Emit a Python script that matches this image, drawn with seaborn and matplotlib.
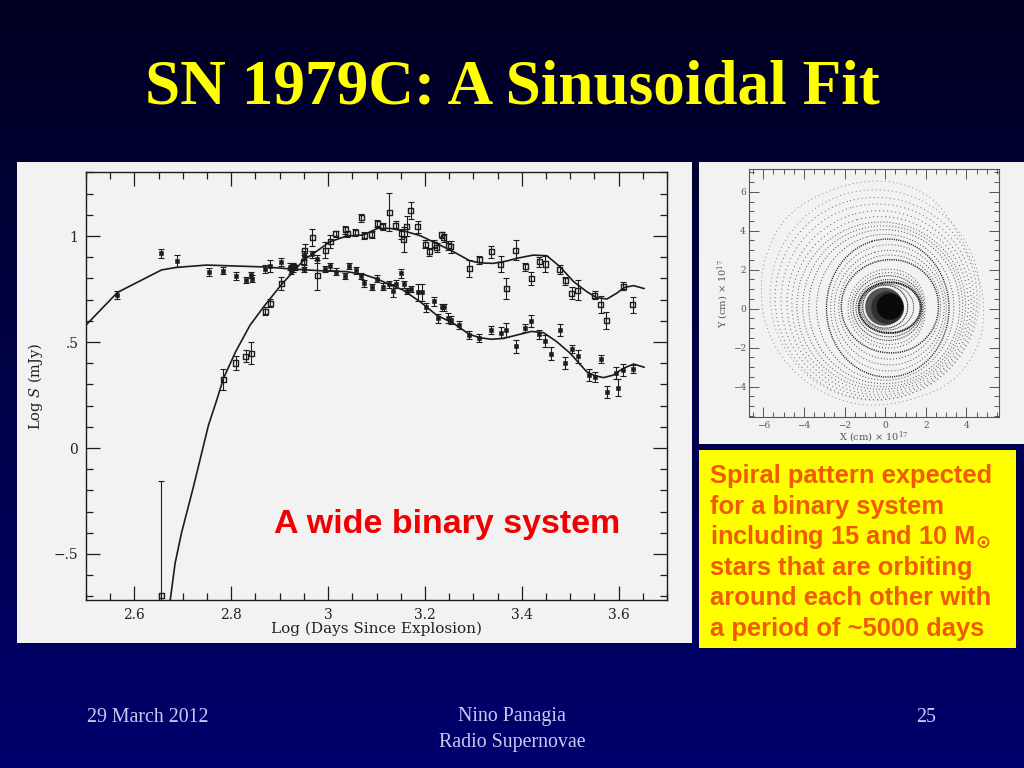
import numpy as np
import matplotlib
matplotlib.use("Agg")
import matplotlib.pyplot as plt
from matplotlib.patches import Rectangle, PathPatch
from matplotlib.path import Path
from matplotlib.ticker import MultipleLocator, FixedLocator, FuncFormatter
import seaborn as sns

TITLE = "SN 1979C: A Sinusoidal Fit"
NOTE_LINES = ["Spiral pattern expected", "for a binary system",
              "including 15 and 10 M$_{\\mathbf{\\odot}}$", "stars that are orbiting",
              "around each other with", "a period of ~5000 days"]

# lower (filled) light curve
LOW_X = [2.5645, 2.6548, 2.687, 2.754, 2.7835, 2.809, 2.830, 2.841, 2.843, 2.870, 2.881, 2.903, 2.921, 2.923, 2.928,
         2.932, 2.950, 2.951, 2.967, 2.978, 2.994, 3.004, 3.016, 3.035, 3.043, 3.057, 3.068, 3.075, 3.091, 3.102,
         3.113, 3.126, 3.134, 3.140, 3.151, 3.157, 3.162, 3.171, 3.186, 3.193, 3.202, 3.219, 3.226, 3.235, 3.240,
         3.248, 3.253, 3.270, 3.292, 3.312, 3.337, 3.357, 3.368, 3.388, 3.407, 3.420, 3.436, 3.449, 3.461, 3.478,
         3.490, 3.503, 3.516, 3.538, 3.551, 3.563, 3.576, 3.594, 3.599, 3.610, 3.629]
LOW_Y = [.722, .918, .881, .830, .837, .811, .793, .816, .799, .846, .859, .877, .855, .837, .848,
         .851, .846, .907, .914, .892, .844, .857, .832, .811, .859, .838, .811, .777, .760, .799,
         .761, .772, .741, .775, .824, .772, .741, .750, .734, .734, .664, .692, .612, .664, .664,
         .613, .604, .580, .533, .519, .558, .544, .557, .480, .566, .599, .536, .506, .445, .558,
         .401, .466, .432, .344, .335, .420, .266, .354, .285, .366, .374]
LOW_E = [.019, .020, .028, .019, .016, .020, .016, .016, .016, .019, .028, .017, .016, .016, .016,
         .013, .016, .022, .016, .019, .016, .016, .016, .016, .016, .016, .016, .016, .016, .016,
         .017, .016, .031, .019, .022, .016, .016, .016, .039, .039, .022, .020, .022, .017, .017,
         .022, .017, .019, .020, .019, .019, .027, .031, .030, .019, .028, .020, .028, .031, .028,
         .030, .019, .030, .028, .025, .017, .028, .028, .039, .028, .019]

# upper (open) light curve
UP_X = [2.655, 2.7835, 2.809, 2.830, 2.841, 2.870, 2.881, 2.903, 2.928, 2.950, 2.952, 2.967, 2.978, 2.994, 3.004,
        3.016, 3.035, 3.040, 3.056, 3.068, 3.075, 3.090, 3.102, 3.113, 3.126, 3.140, 3.151, 3.156, 3.162, 3.171,
        3.185, 3.201, 3.209, 3.219, 3.224, 3.235, 3.239, 3.248, 3.253, 3.292, 3.312, 3.337, 3.357, 3.368, 3.388,
        3.407, 3.420, 3.436, 3.449, 3.478, 3.490, 3.503, 3.516, 3.551, 3.563, 3.575, 3.610, 3.629]
UP_Y = [-.697, .324, .401, .434, .448, .645, .684, .777, .855, .882, .934, .992, .815, .934, .975,
        1.010, 1.030, 1.010, 1.016, 1.087, 1.003, 1.008, 1.058, 1.046, 1.113, 1.050, 1.010, .983, 1.047, 1.120,
        1.044, .961, .926, .962, .947, 1.005, .991, .956, .950, .846, .887, .925, .866, .752, .934,
        .855, .800, .879, .868, .841, .789, .730, .745, .720, .678, .602, .763, .676]
UP_E = [.539, .050, .031, .028, .050, .019, .019, .031, .016, .028, .028, .039, .071, .039, .031,
        .016, .019, .016, .016, .019, .016, .016, .016, .016, .090, .019, .024, .060, .047, .039,
        .028, .019, .019, .019, .022, .016, .019, .022, .028, .041, .020, .030, .038, .050, .049,
        .019, .030, .024, .038, .020, .019, .028, .047, .019, .041, .039, .019, .038]

# fitted curves
LOW_FIT_X = [2.5, 2.565, 2.656, 2.687, 2.749, 2.870, 2.928, 2.994, 3.038, 3.073, 3.102, 3.121, 3.155, 3.190, 3.224,
             3.259, 3.292, 3.314, 3.337, 3.362, 3.390, 3.420, 3.445, 3.472, 3.500, 3.534, 3.551, 3.569, 3.589,
             3.610, 3.631, 3.653]
LOW_FIT_Y = [.580, .734, .840, .852, .863, .854, .844, .835, .832, .819, .797, .777, .745, .690, .627,
             .588, .536, .520, .513, .517, .533, .550, .544, .502, .447, .360, .341, .332, .344,
             .376, .396, .381]
UP_FIT_X = [2.674, 2.684, 2.697, 2.722, 2.753, 2.770, 2.784, 2.809, 2.839, 2.870, 2.903, 2.928, 2.950, 2.970, 3.004,
            3.038, 3.073, 3.102, 3.128, 3.155, 3.190, 3.224, 3.259, 3.292, 3.314, 3.341, 3.369, 3.390, 3.424,
            3.452, 3.479, 3.507, 3.534, 3.555, 3.576, 3.596, 3.613, 3.631, 3.653]
UP_FIT_Y = [-.717, -.544, -.403, -.182, .108, .226, .329, .454, .580, .675, .769, .832, .887, .918, .973,
            1.000, 1.005, 1.036, 1.036, 1.025, 1.002, .965, .926, .884, .873, .871, .882, .895, .910,
            .907, .855, .785, .738, .709, .703, .730, .758, .766, .752]

# spiral traces estimated from the right-hand panel, outermost first
RING1_X = [3.02, 1.38, -.76, -3.05, -5.02, -6.01, -6.14, -5.93, -4.86, -2.89, -.76, 1.38, 3.35, 4.66, 4.91, 4.66]
RING1_Y = [5.07, 6.35, 6.66, 6.01, 4.73, 2.50, .79, -.92, -2.98, -4.52, -5.07, -4.69, -3.84, -1.95, -.07, 1.64]
RING1B_X = [-.5, 2.18, 4.13, 4.85, 4.13, 2.18, -.5, -3.18, -5.13, -5.85, -5.13, -3.18]
RING1B_Y = [6.3, 5.55, 3.5, .7, -2.1, -4.15, -4.9, -4.15, -2.1, .7, 3.5, 5.55]
RING2_X = [-.45, 2.13, 4.01, 4.7, 4.01, 2.13, -.45, -3.03, -4.91, -5.6, -4.91, -3.03]
RING2_Y = [5.9, 5.18, 3.21, .52, -2.17, -4.14, -4.86, -4.14, -2.17, .52, 3.21, 5.18]
RING2B_X = [-.38, 2.08, 3.88, 4.54, 3.88, 2.08, -.38, -2.84, -4.64, -5.3, -4.64, -2.84]
RING2B_Y = [5.55, 4.86, 2.98, .41, -2.16, -4.04, -4.73, -4.04, -2.16, .41, 2.98, 4.86]
RING3_X = [-.3, 2.05, 3.77, 4.4, 3.77, 2.05, -.3, -2.65, -4.37, -5, -4.37, -2.65]
RING3_Y = [5.2, 4.54, 2.75, .3, -2.15, -3.94, -4.6, -3.94, -2.15, .3, 2.75, 4.54]
RING3B_X = [-.25, 2.0, 3.65, 4.25, 3.65, 2.0, -.25, -2.5, -4.15, -4.75, -4.15, -2.5]
RING3B_Y = [4.89, 4.26, 2.56, .22, -2.12, -3.82, -4.45, -3.82, -2.12, .22, 2.56, 4.26]
RING4_X = [-.2, 1.95, 3.52, 4.1, 3.52, 1.95, -.2, -2.35, -3.92, -4.5, -3.92, -2.35]
RING4_Y = [4.6, 4.0, 2.38, .15, -2.08, -3.7, -4.3, -3.7, -2.08, .15, 2.38, 4.0]
RING4B_X = [-.12, 1.92, 3.41, 3.96, 3.41, 1.92, -.12, -2.16, -3.65, -4.2, -3.65, -2.16]
RING4B_Y = [4.4, 3.83, 2.26, .12, -2.02, -3.59, -4.16, -3.59, -2.02, .12, 2.26, 3.83]
RING5_X = [-.05, 1.88, 3.28, 3.8, 3.28, 1.88, -.05, -1.98, -3.38, -3.9, -3.38, -1.98]
RING5_Y = [4.2, 3.65, 2.15, .1, -1.95, -3.45, -4.0, -3.45, -1.95, .1, 2.15, 3.65]
RING5B_X = [0, 1.75, 3.03, 3.5, 3.03, 1.75, 0, -1.75, -3.03, -3.5, -3.03, -1.75]
RING5B_Y = [3.95, 3.43, 2.01, .07, -1.87, -3.29, -3.81, -3.29, -1.87, .07, 2.01, 3.43]
RING6_X = [.12, 1.68, 2.82, 3.25, 2.82, 1.68, .12, -1.44, -2.58, -3.0, -2.58, -1.44]
RING6_Y = [3.7, 3.21, 1.87, .03, -1.81, -3.15, -3.64, -3.15, -1.81, .03, 1.87, 3.21]
RING6B_X = [.16, 1.64, 2.71, 3.11, 2.71, 1.64, .16, -1.32, -2.39, -2.79, -2.39, -1.32]
RING6B_Y = [3.4, 2.95, 1.72, .04, -1.64, -2.87, -3.32, -2.87, -1.64, .04, 1.72, 2.95]
RING7_X = [.2, 1.6, 2.62, 3, 2.62, 1.6, .2, -1.2, -2.22, -2.6, -2.22, -1.2]
RING7_Y = [3.1, 2.69, 1.58, .05, -1.48, -2.59, -3.0, -2.59, -1.48, .05, 1.58, 2.69]
RING7B_X = [.22, 1.52, 2.47, 2.82, 2.47, 1.52, .22, -1.08, -2.03, -2.38, -2.03, -1.08]
RING7B_Y = [2.85, 2.48, 1.47, .08, -1.31, -2.32, -2.69, -2.32, -1.31, .08, 1.47, 2.48]
RING8_X = [.3, 1.5, 2.4, 2.7, 2.4, 1.5, .3, -.98, -1.91, -2.25, -1.91, -.98]
RING8_Y = [2.6, 2.27, 1.36, .12, -1.12, -2.03, -2.36, -2.03, -1.12, .12, 1.36, 2.27]
RING9_X = [.2, 1.2, 1.85, 2.0, 1.85, 1.2, .2, -.85, -1.62, -1.9, -1.62, -.85]
RING9_Y = [2.1, 1.82, 1.05, 0, -1.05, -1.82, -2.1, -1.82, -1.05, 0, 1.05, 1.82]
RING9B_X = [.2, 1.15, 1.78, 1.95, 1.78, 1.15, .2, -.8, -1.5, -1.78, -1.5, -.8]
RING9B_Y = [1.92, 1.66, .96, .02, -.94, -1.66, -1.9, -1.66, -.94, .02, .96, 1.66]
RING10_X = [.18, 1.05, 1.7, 1.9, 1.7, 1.05, .18, -.74, -1.4, -1.65, -1.4, -.74]
RING10_Y = [1.75, 1.52, .89, .03, -.83, -1.46, -1.69, -1.46, -.83, .03, .89, 1.52]
RING10B_X = [.2, 1.03, 1.64, 1.85, 1.64, 1.03, .2, -.65, -1.27, -1.5, -1.27, -.65]
RING10B_Y = [1.55, 1.35, .78, .03, -.72, -1.29, -1.5, -1.29, -.72, .03, .78, 1.35]
RING11_X = [.22, 1.01, 1.59, 1.8, 1.59, 1.01, .22, -.57, -1.15, -1.35, -1.15, -.57]
RING11_Y = [1.4, 1.22, .72, .05, -.62, -1.12, -1.3, -1.12, -.62, .05, .72, 1.22]
RING11B_X = [.1, .78, 1.27, 1.45, 1.27, .78, .1, -.58, -1.07, -1.25, -1.07, -.58]
RING11B_Y = [1.3, 1.13, .69, .08, -.53, -.97, -1.15, -.97, -.53, .08, .69, 1.13]
RING11C_X = [0, .58, 1.0, 1.15, 1.0, .58, 0, -.58, -1.0, -1.15, -1.0, -.58]
RING11C_Y = [1.25, 1.09, .68, .1, -.48, -.89, -1.05, -.89, -.48, .1, .68, 1.09]
DISC_X = [-.05]
DISC_Y = [.1]
MID_X = [.12]
MID_Y = [.05]
CORE_X = [.23]
CORE_Y = [.1]

W, H = 1024, 768
sns.set_theme(style="white")
plt.rcParams["font.family"] = ["Liberation Serif", "DejaVu Serif"]
plt.rcParams["mathtext.fontset"] = "dejavuserif"
plt.rcParams["lines.scale_dashes"] = False

fig = plt.figure(figsize=(W / 100, H / 100), dpi=100)


def axes_px(l, t, r, b, **kw):
    return fig.add_axes([l / W, 1 - b / H, (r - l) / W, (b - t) / H], **kw)


# background
bg = axes_px(0, 0, W, H)
bg.set_axis_off()
grad = np.linspace(0, 1, 256)[:, None]
navy = np.stack([0 * grad, 0 * grad, 0.13 + 0.30 * grad], axis=2)
bg.imshow(navy, extent=[0, W, H, 0], aspect="auto", zorder=0)
bg.add_patch(Rectangle((17, 162), 675, 481, fc="#f2f2f2", ec="none", zorder=1))
bg.add_patch(Rectangle((699, 162), 325, 282, fc="#f2f2f2", ec="none", zorder=1))
bg.add_patch(Rectangle((699, 450), 317, 198, fc="#ffff00", ec="none", zorder=1))
bg.set_xlim(0, W)
bg.set_ylim(H, 0)

bg.text(512, 88, TITLE, color="#ffff00", fontsize=45.5, fontweight="bold",
        family="Liberation Serif", ha="center", va="center", zorder=3)
foot = "#c9c9f5"
bg.text(148, 717, "29 March 2012", color=foot, fontsize=14.3, ha="center", va="center")
bg.text(512, 717, "Nino Panagia", color=foot, fontsize=14.3, ha="center", va="center")
bg.text(512, 742, "Radio Supernovae", color=foot, fontsize=14.3, ha="center", va="center")
bg.text(926, 717, "25", color=foot, fontsize=14.3, ha="center", va="center")
for i, line in enumerate(NOTE_LINES):
    bg.text(710, 476 + i * 30.6, line, color="#f05a00", fontsize=18.4, fontweight="bold",
            family="Liberation Sans", ha="left", va="center", zorder=3,
            math_fontfamily="dejavusans")

# light curves
ax = axes_px(86, 172, 667, 600)
ax.patch.set_alpha(0)
ax.set_zorder(1)
ink = "#1c1c1c"
sns.lineplot(x=LOW_FIT_X, y=LOW_FIT_Y, ax=ax, color=ink, lw=1.2, sort=False, estimator=None)
sns.lineplot(x=UP_FIT_X, y=UP_FIT_Y, ax=ax, color=ink, lw=1.2, sort=False, estimator=None)
ax.errorbar(LOW_X, LOW_Y, yerr=LOW_E, fmt="none", ecolor=ink, elinewidth=.8, capsize=2.4, capthick=.8)
ax.errorbar(UP_X, UP_Y, yerr=UP_E, fmt="none", ecolor=ink, elinewidth=.8, capsize=2.4, capthick=.8)
sns.scatterplot(x=LOW_X, y=LOW_Y, ax=ax, marker="s", s=9, color=ink, edgecolor=ink, linewidth=.4, zorder=4)
sns.scatterplot(x=UP_X, y=UP_Y, ax=ax, marker="s", s=13, facecolor="none", edgecolor=ink, linewidth=1.0, zorder=4)
ax.set_xlim(2.5, 3.70)
ax.set_ylim(-.717, 1.302)
ax.xaxis.set_major_locator(FixedLocator([2.6, 2.8, 3.0, 3.2, 3.4, 3.6]))
ax.xaxis.set_minor_locator(MultipleLocator(.05))
ax.yaxis.set_major_locator(FixedLocator([-.5, 0, .5, 1]))
ax.yaxis.set_minor_locator(MultipleLocator(.1))
ax.set_xticklabels(["2.6", "2.8", "3", "3.2", "3.4", "3.6"])
ax.set_yticklabels(["\u2212.5", "0", ".5", "1"])
ax.tick_params(which="major", direction="in", length=10, width=.9, top=True, right=True, bottom=True, left=True,
               labelsize=10, labelcolor="#222222", color=ink, pad=5.5)
ax.tick_params(which="minor", direction="in", length=5, width=.9, top=True, right=True, bottom=True, left=True, color=ink)
for lab in ax.get_xticklabels() + ax.get_yticklabels():
    lab.set_family("DejaVu Serif")
for s in ax.spines.values():
    s.set_color(ink)
    s.set_linewidth(1.0)
ax.set_xlabel("Log (Days Since Explosion)", family="DejaVu Serif", fontsize=11, color="#222222", labelpad=0)
ax.set_ylabel("Log $S$ (mJy)", family="DejaVu Serif", fontsize=10.5, color="#222222", labelpad=6)

top = axes_px(0, 0, W, H)
top.set_axis_off()
top.patch.set_alpha(0)
top.set_xlim(0, W)
top.set_ylim(H, 0)
top.set_zorder(2)
top.text(447, 525, "A wide binary system", color="#f00000", fontsize=24.5, fontweight="bold",
         family="Liberation Sans", ha="center", va="center")

# spiral panel
sp = axes_px(749.3, 169, 999, 417.3)
sp.patch.set_alpha(0)
sp.set_zorder(1)
sp.set_xlim(-6.69, 5.6)
sp.set_ylim(-5.58, 7.17)


def ring(xs, ys, lw, col, dash):
    # closed smooth trace: each read point acts as the control point of a quadratic segment
    pts = np.column_stack([xs, ys])
    mids = (pts + np.roll(pts, -1, axis=0)) / 2
    verts = [mids[-1]]
    codes = [Path.MOVETO]
    for p, m in zip(pts, mids):
        verts += [p, m]
        codes += [Path.CURVE3, Path.CURVE3]
    sp.add_patch(PathPatch(Path(verts, codes), fc="none", ec=col, lw=lw, ls=dash, capstyle="butt", zorder=2))


sparse = (0, (.7, 2.2))
mid = (0, (.7, 1.5))
dense = (0, (.8, .8))
fine = (0, (.9, .4))
ring(RING1_X, RING1_Y, .6, "#777777", sparse)
ring(RING1B_X, RING1B_Y, .6, "#777777", sparse)
ring(RING2_X, RING2_Y, .7, "#666666", sparse)
ring(RING2B_X, RING2B_Y, .7, "#666666", sparse)
ring(RING3_X, RING3_Y, .7, "#555555", sparse)
ring(RING3B_X, RING3B_Y, .7, "#555555", sparse)
ring(RING4_X, RING4_Y, .7, "#555555", mid)
ring(RING4B_X, RING4B_Y, .7, "#555555", mid)
ring(RING5_X, RING5_Y, .7, "#444444", mid)
ring(RING5B_X, RING5B_Y, .7, "#444444", mid)
ring(RING6_X, RING6_Y, 1.0, "#222222", dense)
ring(RING6B_X, RING6B_Y, .7, "#555555", mid)
ring(RING7_X, RING7_Y, .7, "#444444", mid)
ring(RING7B_X, RING7B_Y, .7, "#444444", mid)
ring(RING8_X, RING8_Y, 1.1, "#222222", dense)
ring(RING9_X, RING9_Y, .7, "#444444", mid)
ring(RING9B_X, RING9B_Y, .7, "#444444", mid)
ring(RING10_X, RING10_Y, .8, "#333333", dense)
ring(RING10B_X, RING10B_Y, .8, "#333333", dense)
ring(RING11_X, RING11_Y, 1.5, "#111111", fine)
ring(RING11B_X, RING11B_Y, .6, "#444444", fine)
ring(RING11C_X, RING11C_Y, .8, "#333333", fine)
sns.scatterplot(x=DISC_X, y=DISC_Y, ax=sp, s=750, color="#555555", edgecolor="none", zorder=3)
sns.scatterplot(x=MID_X, y=MID_Y, ax=sp, s=560, color="#303030", edgecolor="none", zorder=3)
sns.scatterplot(x=CORE_X, y=CORE_Y, ax=sp, s=360, color="#0a0a0a", edgecolor="none", zorder=4)
sp.set_xlim(-6.69, 5.6)
sp.set_ylim(-5.58, 7.17)
sp.xaxis.set_major_locator(FixedLocator([-6, -4, -2, 0, 2, 4]))
sp.xaxis.set_minor_locator(MultipleLocator(.5))
sp.yaxis.set_major_locator(FixedLocator([-4, -2, 0, 2, 4, 6]))
sp.yaxis.set_minor_locator(MultipleLocator(.5))
sp.xaxis.set_major_formatter(FuncFormatter(lambda v, p: f"{v:.0f}".replace("-", "\u2212")))
sp.yaxis.set_major_formatter(FuncFormatter(lambda v, p: f"{v:.0f}".replace("-", "\u2212")))
grey = "#555555"
sp.tick_params(which="major", direction="in", length=7, width=.7, top=True, right=True, bottom=True, left=True,
               labelsize=6.5, labelcolor=grey, color=grey, pad=2.5)
sp.tick_params(which="minor", direction="in", length=3.5, width=.7, top=True, right=True, bottom=True, left=True, color=grey)
for lab in sp.get_xticklabels() + sp.get_yticklabels():
    lab.set_family("DejaVu Serif")
for s in sp.spines.values():
    s.set_color(grey)
    s.set_linewidth(.8)
sp.set_xlabel("X (cm) \u00d7 10$^{17}$", family="DejaVu Serif", fontsize=7, color=grey, labelpad=0)
sp.set_ylabel("Y (cm) \u00d7 10$^{17}$", family="DejaVu Serif", fontsize=7, color=grey, labelpad=1)

fig.savefig("out.png", dpi=100)
